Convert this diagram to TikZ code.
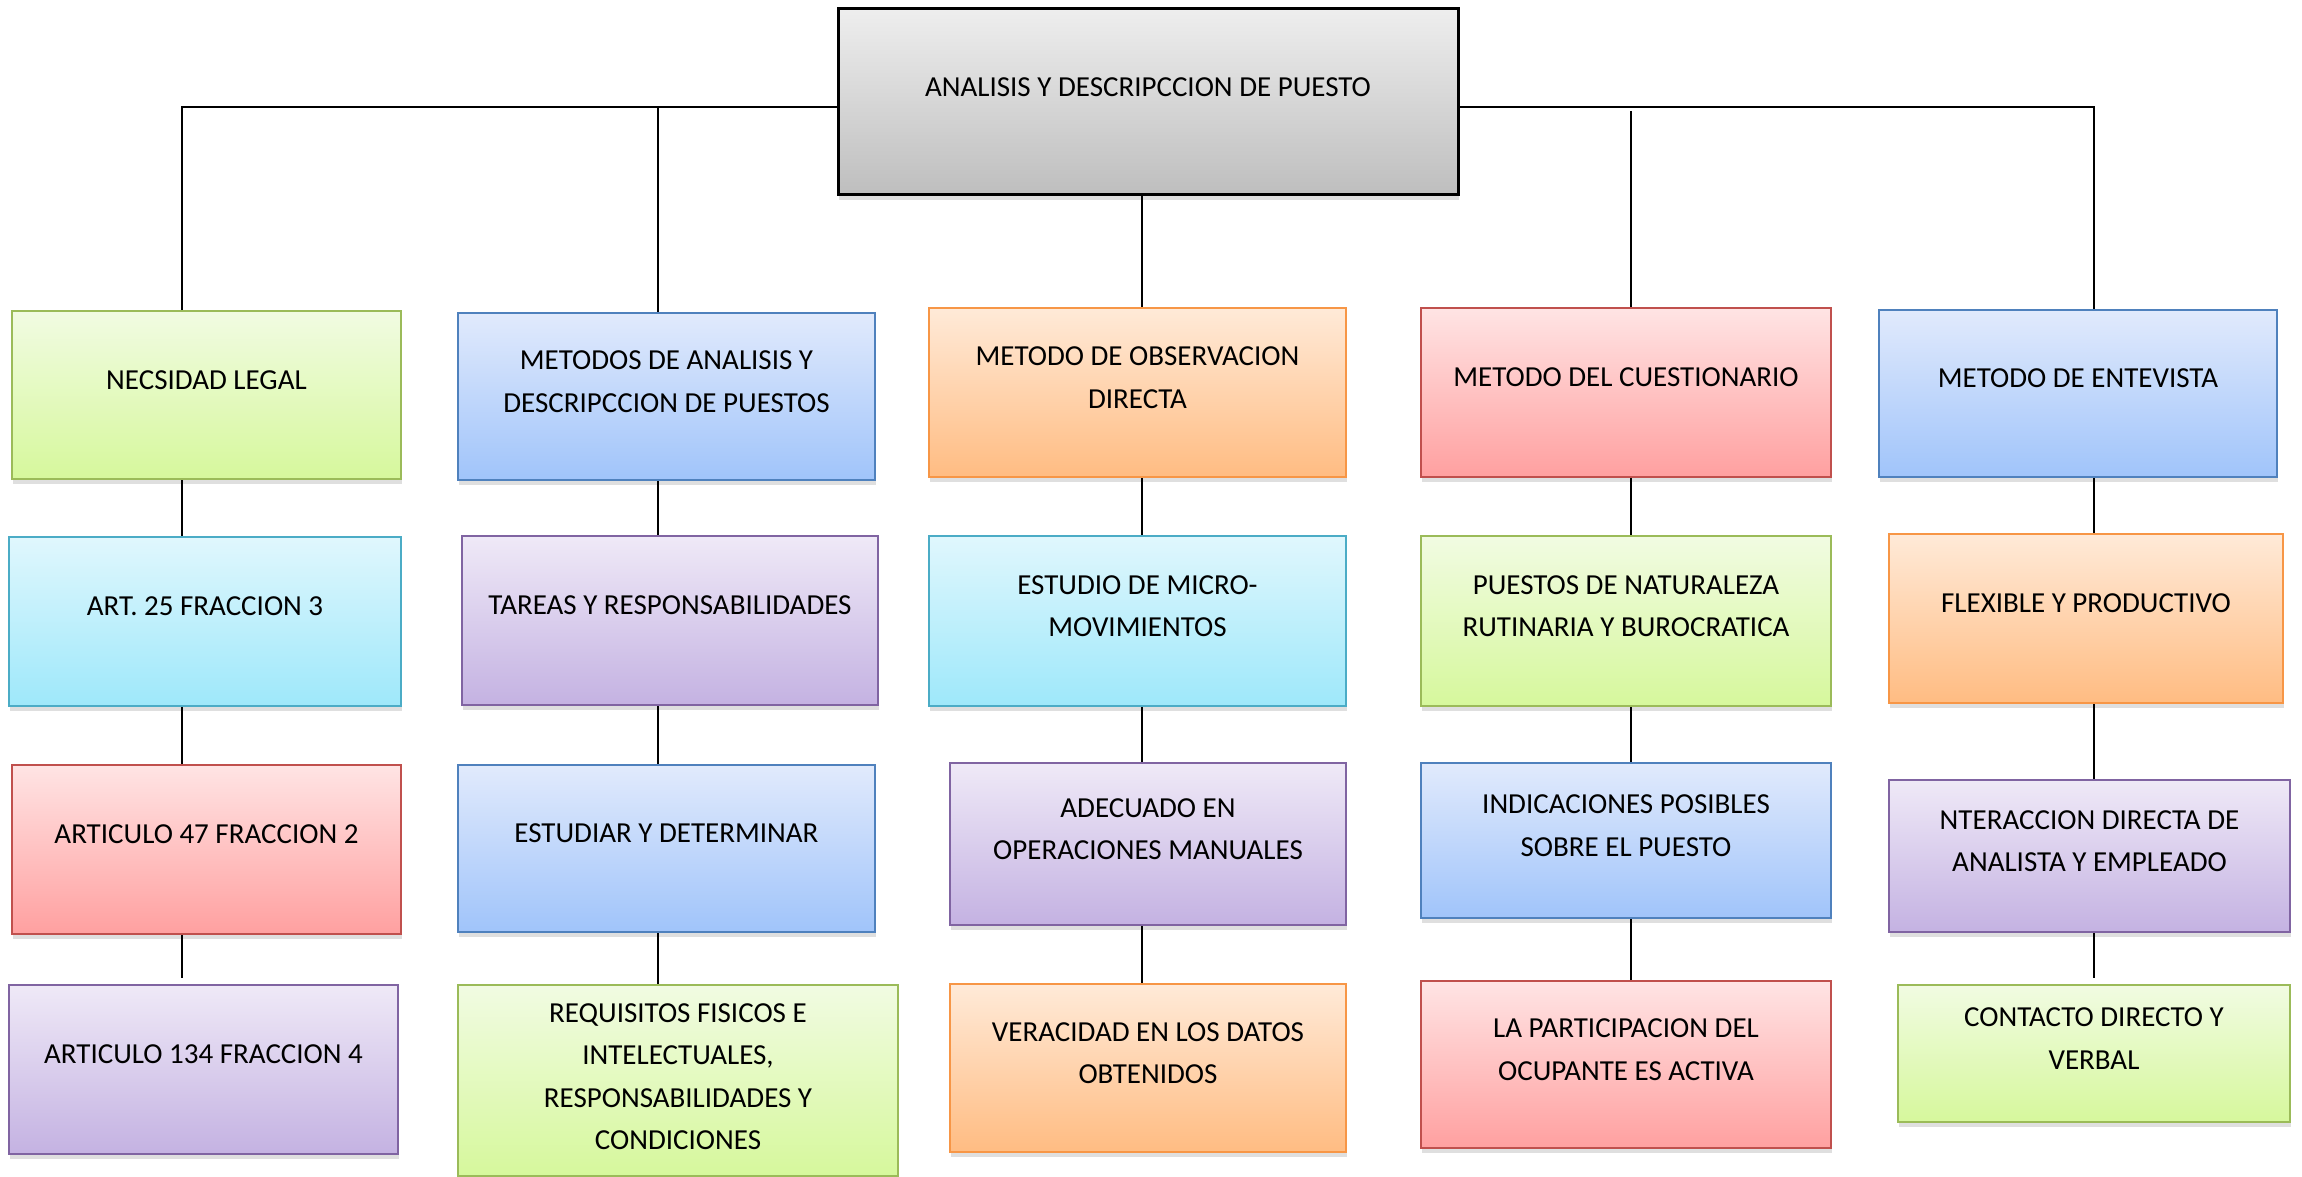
\documentclass[tikz,border=0pt]{standalone}
\usepackage{fontspec}
\setmainfont{Carlito}
\usepackage{tikz}
\usetikzlibrary{positioning, calc, fit, shadows}

\definecolor{grnT}{RGB}{241,251,226}
\definecolor{grnB}{RGB}{214,248,156}
\definecolor{grnL}{RGB}{155,187,89}
\definecolor{cyaT}{RGB}{224,247,253}
\definecolor{cyaB}{RGB}{158,232,250}
\definecolor{cyaL}{RGB}{75,172,198}
\definecolor{redT}{RGB}{255,228,228}
\definecolor{redB}{RGB}{255,160,160}
\definecolor{redL}{RGB}{192,80,77}
\definecolor{purT}{RGB}{239,233,247}
\definecolor{purB}{RGB}{196,178,226}
\definecolor{purL}{RGB}{128,100,162}
\definecolor{bluT}{RGB}{225,234,252}
\definecolor{bluB}{RGB}{160,196,250}
\definecolor{bluL}{RGB}{79,129,189}
\definecolor{oraT}{RGB}{255,234,216}
\definecolor{oraB}{RGB}{255,188,130}
\definecolor{oraL}{RGB}{247,150,70}
\definecolor{gryT}{RGB}{238,238,238}
\definecolor{gryB}{RGB}{190,190,190}

\begin{document}
\begin{tikzpicture}
    [x=1pt, y=-1pt,
    boxnode/.style={rectangle, inner sep=0pt, line width=2.5pt,
        drop shadow={shadow xshift=1pt, shadow yshift=-5pt, opacity=0.25}},
    greennode/.style={boxnode, draw=grnL, top color=grnT, bottom color=grnB},
    cyannode/.style={boxnode, draw=cyaL, top color=cyaT, bottom color=cyaB},
    rednode/.style={boxnode, draw=redL, top color=redT, bottom color=redB},
    purplenode/.style={boxnode, draw=purL, top color=purT, bottom color=purB},
    bluenode/.style={boxnode, draw=bluL, top color=bluT, bottom color=bluB},
    orangenode/.style={boxnode, draw=oraL, top color=oraT, bottom color=oraB},
    rootnode/.style={boxnode, line width=3pt, draw=black, top color=gryT, bottom color=gryB},
    textnode/.style={font=\fontsize{29}{42.5}\selectfont, align=center, inner sep=0pt, yshift=15pt},
    link/.style={line width=2pt, black}]

    \useasboundingbox (0,0) rectangle (2302,1177);

    %Nodes
    \node[rootnode, fit={(838,9) (1458,195)}](root){};
    \node[textnode](roott) at (root){ANALISIS Y DESCRIPCCION DE PUESTO};

    \node[greennode, fit={(12,311) (401,479)}](a1){};
    \node[cyannode, fit={(9,537) (401,706)}](a2){};
    \node[rednode, fit={(12,765) (401,934)}](a3){};
    \node[purplenode, fit={(9,985) (398,1154)}](a4){};
    \node[textnode](a1t) at (a1){NECSIDAD LEGAL};
    \node[textnode](a2t) at (a2){ART. 25 FRACCION 3};
    \node[textnode](a3t) at (a3){ARTICULO 47 FRACCION 2};
    \node[textnode](a4t) at (a4){ARTICULO 134 FRACCION 4};

    \node[bluenode, fit={(458,313) (875,480)}](b1){};
    \node[purplenode, fit={(462,536) (878,705)}](b2){};
    \node[bluenode, fit={(458,765) (875,932)}](b3){};
    \node[greennode, fit={(458,985) (898,1176)}](b4){};
    \node[textnode](b1t) at (b1){METODOS DE ANALISIS Y\\DESCRIPCCION DE PUESTOS};
    \node[textnode](b2t) at (b2){TAREAS Y RESPONSABILIDADES};
    \node[textnode](b3t) at (b3){ESTUDIAR Y DETERMINAR};
    \node[textnode, yshift=-11pt](b4t) at (b4){REQUISITOS FISICOS E\\INTELECTUALES,\\RESPONSABILIDADES Y\\CONDICIONES};

    \node[orangenode, fit={(929,308) (1346,477)}](c1){};
    \node[cyannode, fit={(929,536) (1346,706)}](c2){};
    \node[purplenode, fit={(950,763) (1346,925)}](c3){};
    \node[orangenode, fit={(950,984) (1346,1152)}](c4){};
    \node[textnode](c1t) at (c1){METODO DE OBSERVACION\\DIRECTA};
    \node[textnode](c2t) at (c2){ESTUDIO DE MICRO-\\MOVIMIENTOS};
    \node[textnode](c3t) at (c3){ADECUADO EN\\OPERACIONES MANUALES};
    \node[textnode](c4t) at (c4){VERACIDAD EN LOS DATOS\\OBTENIDOS};

    \node[rednode, fit={(1421,308) (1831,477)}](d1){};
    \node[greennode, fit={(1421,536) (1831,706)}](d2){};
    \node[bluenode, fit={(1421,763) (1831,918)}](d3){};
    \node[rednode, fit={(1421,981) (1831,1148)}](d4){};
    \node[textnode](d1t) at (d1){METODO DEL CUESTIONARIO};
    \node[textnode](d2t) at (d2){PUESTOS DE NATURALEZA\\RUTINARIA Y BUROCRATICA};
    \node[textnode](d3t) at (d3){INDICACIONES POSIBLES\\SOBRE EL PUESTO};
    \node[textnode](d4t) at (d4){LA PARTICIPACION DEL\\OCUPANTE ES ACTIVA};

    \node[bluenode, fit={(1879,310) (2277,477)}](e1){};
    \node[orangenode, fit={(1889,534) (2283,703)}](e2){};
    \node[purplenode, fit={(1889,780) (2290,932)}](e3){};
    \node[greennode, fit={(1898,985) (2290,1122)}](e4){};
    \node[textnode](e1t) at (e1){METODO DE ENTEVISTA};
    \node[textnode](e2t) at (e2){FLEXIBLE Y PRODUCTIVO};
    \node[textnode](e3t) at (e3){NTERACCION DIRECTA DE\\ANALISTA Y EMPLEADO};
    \node[textnode](e4t) at (e4){CONTACTO DIRECTO Y\\VERBAL};

    %Column lines
    \coordinate (ca) at (182,0);
    \coordinate (cb) at (658,0);
    \coordinate (cc) at (1142,0);
    \coordinate (cd) at (1631,0);
    \coordinate (ce) at (2094,0);
    \coordinate (busL) at ([yshift=-5pt]root.west);
    \coordinate (busR) at ([yshift=-5pt]root.east);

    %Lines
    \draw[link](busL) -| (ca |- a1.north);
    \draw[link](cb |- busL) -- (cb |- b1.north);
    \draw[link](cc |- root.south) -- (cc |- c1.north);
    \draw[link, shorten <=4pt](cd |- busR) -- (cd |- d1.north);
    \draw[link](busR) -| (ce |- e1.north);

    \draw[link](ca |- a1.south) -- (ca |- a2.north);
    \draw[link](ca |- a2.south) -- (ca |- a3.north);
    \draw[link, shorten >=6pt](ca |- a3.south) -- (ca |- a4.north);

    \draw[link](cb |- b1.south) -- (cb |- b2.north);
    \draw[link](cb |- b2.south) -- (cb |- b3.north);
    \draw[link](cb |- b3.south) -- (cb |- b4.north);

    \draw[link](cc |- c1.south) -- (cc |- c2.north);
    \draw[link](cc |- c2.south) -- (cc |- c3.north);
    \draw[link](cc |- c3.south) -- (cc |- c4.north);

    \draw[link](cd |- d1.south) -- (cd |- d2.north);
    \draw[link](cd |- d2.south) -- (cd |- d3.north);
    \draw[link](cd |- d3.south) -- (cd |- d4.north);

    \draw[link](ce |- e1.south) -- (ce |- e2.north);
    \draw[link](ce |- e2.south) -- (ce |- e3.north);
    \draw[link, shorten >=6pt](ce |- e3.south) -- (ce |- e4.north);
\end{tikzpicture}
\end{document}
